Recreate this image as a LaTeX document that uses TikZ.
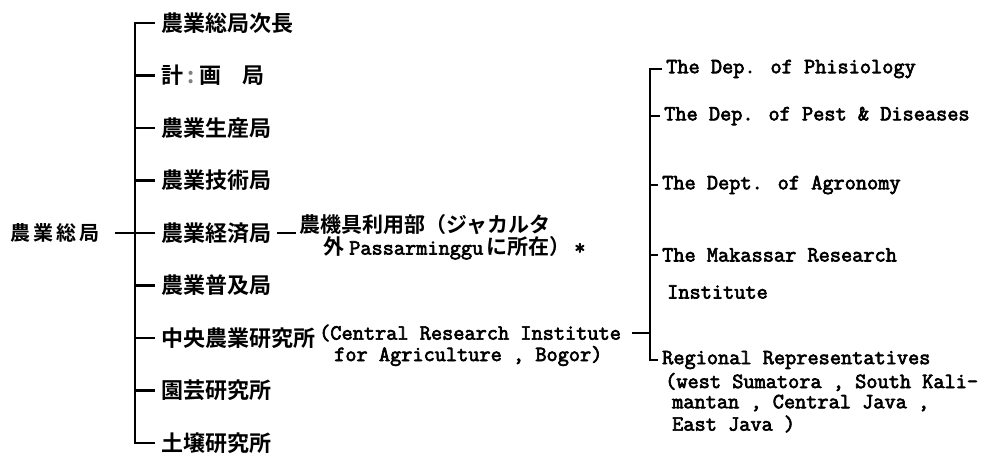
\documentclass[tikz,border=0pt]{standalone}
\usepackage{fontspec}
\newfontfamily\jpf{Noto Sans CJK JP Bold}
\newfontfamily\twf[FakeBold=3]{Latin Modern Mono}
\newcommand\jp{\jpf\fontsize{22}{25}\selectfont}
\newcommand\tw{\twf\fontsize{21.7}{24}\selectfont}
\newcommand\jps{\jpf\fontsize{21}{24}\selectfont}
\begin{document}
\begin{tikzpicture}[x=1pt,y=-1pt,line width=2.4pt,
  jl/.style={anchor=west,inner xsep=5pt,inner ysep=0pt,font=\jp},
  el/.style={anchor=west,inner xsep=3pt,inner ysep=0pt,font=\tw},
  plain/.style={anchor=west,inner sep=0pt}]
\useasboundingbox (0,0) rectangle (999,460);
% left column
\node[jl] (l1) at (155,23) {農業総局次長};
\node[jl] (l2) at (155,75.5) {計\hspace{4pt}{\color{gray}:}\hspace{5pt}画\hspace{21pt}局};
\node[jl] (l3) at (155,128) {農業生産局};
\node[jl] (l4) at (155,180.5) {農業技術局};
\node[jl] (l5) at (155,233) {農業経済局};
\node[jl] (l6) at (155,285.5) {農業普及局};
\node[jl] (l7) at (155,338) {中央農業研究所};
\node[jl] (l8) at (155,390.5) {園芸研究所};
\node[jl] (l9) at (155,443) {土壌研究所};
\node[anchor=east,inner sep=0pt,font=\jpf\fontsize{20}{24}\selectfont] (root) at (101,233) {農\hspace{3pt}業\hspace{3pt}総\hspace{3pt}局};
\coordinate (vx) at (135,233);
\draw (l1.west) -| (vx) |- (l9.west);
\foreach \i in {2,3,4,6,7,8} \draw (l\i.west) -- (l\i.west -| vx);
\draw ([xshift=14pt]root.east) -- (l5.west);
% middle
\node[jl,inner xsep=2pt,font=\jps] (m1) at (296,225) {農機具利用部（ジャカルタ};
\node[plain,font=\tw] (m2) at (322,248) {{\jps 外}\hspace{5pt}Passarminggu\hspace{3pt}{\jps に所在）}\hspace{4pt}*};
\draw (l5.east) -- (l5.east -| m1.west);
\node[el,inner xsep=0pt] (c1) at (318,333) {(Central Research Institute};
\node[el,inner xsep=0pt] (c2) at (333,356) {for Agriculture , Bogor)};
% right column
\coordinate (rx) at (650,333);
\node[el] (r1) at (662,69) {The Dep. of Phisiology};
\node[el] (r2) at (660,116) {The Dep. of Pest \& Diseases};
\node[el] (r3) at (658,185) {The Dept. of Agronomy};
\node[el] (r4) at (658,255) {The Makassar Research};
\node[el] (r4b) at (663,292) {Institute};
\node[el] (r5) at (658,360) {Regional Representatives};
\node[el] (r5b) at (661,382) {(west Sumatora , South Kali-};
\node[el] (r5c) at (668,403) {mantan , Central Java ,};
\node[el] (r5d) at (668,424) {East Java )};
\draw (r1.west) -| (rx) |- (r5.west);
\foreach \n in {r2,r3,r4} \draw (\n.west) -- (\n.west -| rx);
\draw ([xshift=10pt]c1.east) -- (c1.east -| rx);
\end{tikzpicture}
\end{document}
